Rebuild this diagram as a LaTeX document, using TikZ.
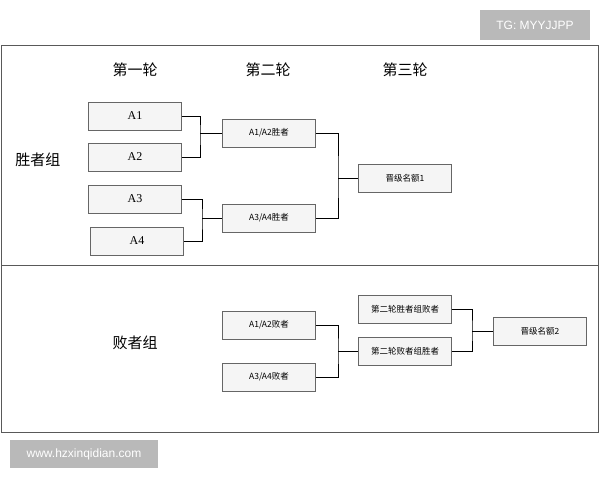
\documentclass[tikz,border=0pt]{standalone}
\usepackage{fontspec}
\setmainfont{Liberation Serif}
\newfontfamily\cjk{Noto Sans CJK SC}
\newfontfamily\badgefont{Liberation Sans}
\usetikzlibrary{positioning}
\tikzset{
  slot/.style = {draw=gray!80!black, fill=gray!8, minimum width=93pt, minimum height=28pt, inner sep=0pt, font=\cjk\fontsize{8.5}{9}\selectfont},
  seed/.style = {slot, font=\fontsize{12}{13}\selectfont},
  head/.style = {font=\cjk\fontsize{15}{16}\selectfont},
  badge/.style = {fill=gray!55, text=white, font=\badgefont\fontsize{12}{13}\selectfont, inner sep=0pt}
}
\begin{document}
\begin{tikzpicture}[x=1pt, y=-1pt, line width=0.6pt]
  \useasboundingbox (0,0) rectangle (600,480);
  \draw[gray!70!black] (1,45) rectangle (598,432);
  \draw[gray!70!black] (1,265) -- (598,265);
  \node[badge, minimum width=110pt, minimum height=30pt] (tg) at (535,25) {TG: MYYJJPP};
  \node[badge, minimum width=148pt, minimum height=28pt] (www) at (84,454) {www.hzxinqidian.com};
  % headers
  \node[head] (r1) at (135,70) {第一轮};
  \node[head] (r2) at (268,70) {第二轮};
  \node[head] (r3) at (405,70) {第三轮};
  \node[head] (wg) at (38,160) {胜者组};
  \node[head] (lg) at (135,343) {败者组};
  % winners bracket
  \node[seed] (a1) at (135,116) {A1};
  \node[seed] (a2) at (135,157) {A2};
  \node[seed] (a3) at (135,199) {A3};
  \node[seed] (a4) at (137,241) {A4};
  \node[slot] (w1) at (269,133) {A1/A2胜者};
  \node[slot] (w2) at (269,218) {A3/A4胜者};
  \node[slot] (q1) at (405,178) {晋级名额1};
  % losers bracket
  \node[slot] (l1) at (269,325) {A1/A2败者};
  \node[slot] (l2) at (269,377) {A3/A4败者};
  \node[slot] (s1) at (405,309) {第二轮胜者组败者};
  \node[slot] (s2) at (405,351) {第二轮败者组胜者};
  \node[slot] (q2) at (540,331) {晋级名额2};
  % joins
  \coordinate (j1) at (200,133);
  \coordinate (j2) at (202,218);
  \coordinate (j3) at (338,178);
  \coordinate (j4) at (338,351);
  \coordinate (j5) at (472,331);
  \draw (a1.east) -| (j1) |- (a2.east);
  \draw (j1) -- (w1.west);
  \draw (a3.east) -| (j2) |- (a4.east);
  \draw (j2) -- (w2.west);
  \draw (w1.east) -| (j3) |- (w2.east);
  \draw (j3) -- (q1.west);
  \draw (l1.east) -| (j4) |- (l2.east);
  \draw (j4) -- (s2.west);
  \draw (s1.east) -| (j5) |- (s2.east);
  \draw (j5) -- (q2.west);
\end{tikzpicture}
\end{document}
